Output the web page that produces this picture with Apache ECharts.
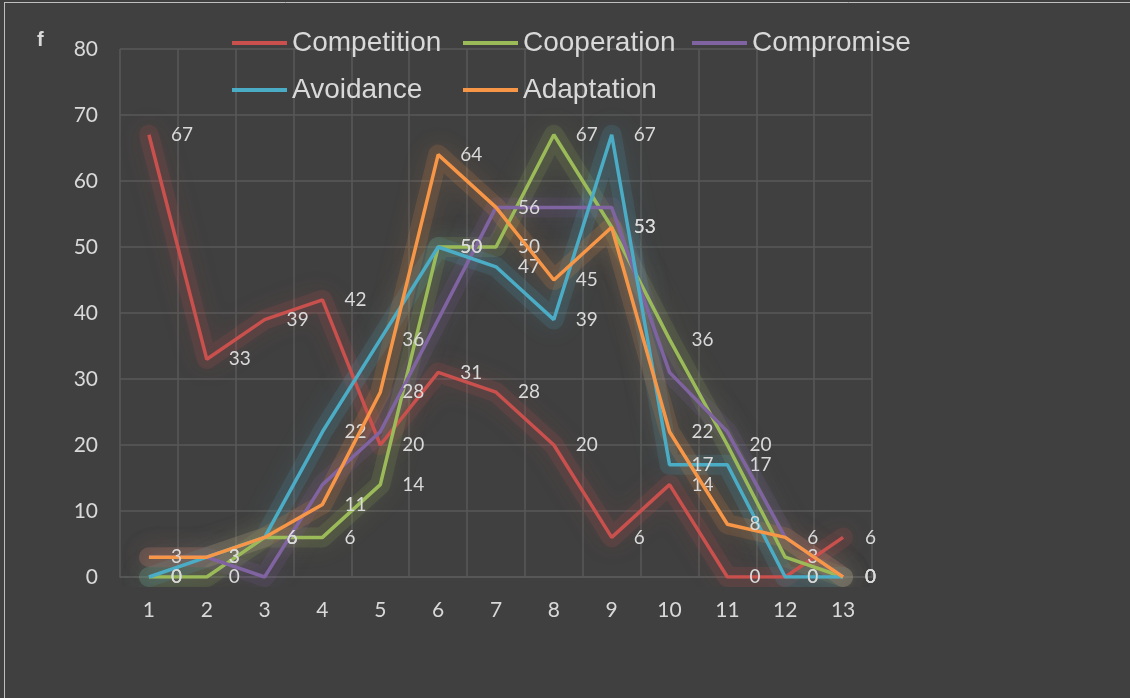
<!DOCTYPE html>
<html>
<head>
<meta charset="utf-8">
<style>
  html, body { margin: 0; padding: 0; background: #404040; }
  #chart { width: 1130px; height: 698px; }
</style>
<script src="https://cdn.jsdelivr.net/npm/echarts@6/dist/echarts.min.js"></script>
</head>
<body>
<div id="chart"></div>
<script>
// Categories on the horizontal axis
const categories = ['1', '2', '3', '4', '5', '6', '7', '8', '9', '10', '11', '12', '13'];

// Frequencies (f) per conflict style
const competition = [67, 33, 39, 42, 20, 31, 28, 20, 6, 14, 0, 0, 6];
const cooperation = [0, 0, 6, 6, 14, 50, 50, 67, 53, 36, 20, 3, 0];
const compromise  = [3, 3, 0, 14, 22, 39, 56, 56, 56, 31, 22, 6, 0];
const avoidance   = [0, 3, 6, 22, 36, 50, 47, 39, 67, 17, 17, 0, 0];
const adaptation  = [3, 3, 6, 11, 28, 64, 56, 45, 53, 22, 8, 6, 0];

const seriesNames  = ['Competition', 'Cooperation', 'Compromise', 'Avoidance', 'Adaptation'];
const seriesValues = [competition, cooperation, compromise, avoidance, adaptation];
const seriesColors = ['#c9504c', '#9bbb59', '#8064a2', '#4bacc6', '#f79646'];
const seriesLabels = [true, true, false, true, true];

// Y-axis ticks
const yTicks = { min: 0, max: 80, step: 10 };

function hexToRgba(hex, a) {
  const n = parseInt(hex.slice(1), 16);
  return 'rgba(' + ((n >> 16) & 255) + ',' + ((n >> 8) & 255) + ',' + (n & 255) + ',' + a + ')';
}

const textColor = '#d9d9d9';
const gridColor = '#595959';
const numFont = 'Lato, "Open Sans", sans-serif';

// Soft halo drawn underneath each line
const glowSeries = seriesNames.map((name, i) => ({
  name: name + ' glow',
  type: 'line',
  data: seriesValues[i],
  symbol: 'none',
  silent: true,
  z: 1,
  lineStyle: {
    color: hexToRgba(seriesColors[i], 0.14),
    width: 20,
    join: 'round',
    cap: 'round',
    shadowBlur: 24,
    shadowColor: hexToRgba(seriesColors[i], 0.8)
  },
  emphasis: { disabled: true },
  animation: false
}));

const lineSeries = seriesNames.map((name, i) => ({
  name: name,
  type: 'line',
  data: seriesValues[i],
  symbol: 'circle',
  symbolSize: 0,
  showSymbol: true,
  z: 2 + i,
  itemStyle: { color: seriesColors[i] },
  lineStyle: {
    color: seriesColors[i],
    width: 3.5
  },
  label: {
    show: seriesLabels[i],
    position: 'right',
    distance: 22,
    color: textColor,
    fontFamily: numFont,
    fontSize: 19
  },
  emphasis: { disabled: true },
  animation: false
}));

// Legend laid out as a two-row grid of fixed columns
const legendSlots = [
  { left: 232, top: 29 }, { left: 463, top: 29 }, { left: 692, top: 29 },
  { left: 232, top: 76 }, { left: 463, top: 76 }
];
const legends = seriesNames.map((name, i) => ({
  data: [name],
  left: legendSlots[i].left,
  top: legendSlots[i].top,
  icon: 'rect',
  itemWidth: 55,
  itemHeight: 4,
  itemGap: 0,
  padding: 0,
  selectedMode: false,
  textStyle: {
    color: textColor,
    fontFamily: '"Liberation Sans", Arial, sans-serif',
    fontSize: 28
  }
}));

const chart = echarts.init(document.getElementById('chart'), null, { renderer: 'canvas' });
chart.setOption({
  backgroundColor: '#404040',
  animation: false,
  legend: legends,
  grid: { left: 120, right: 258, top: 49, bottom: 121, containLabel: false },
  xAxis: {
    type: 'category',
    data: categories,
    boundaryGap: true,
    axisLine: { show: true, lineStyle: { color: gridColor, width: 1.5 } },
    axisTick: { show: false },
    splitLine: { show: true, lineStyle: { color: gridColor, width: 1.5 } },
    axisLabel: { color: textColor, fontFamily: numFont, fontSize: 21, margin: 23, interval: 0 }
  },
  yAxis: {
    type: 'value',
    min: yTicks.min,
    max: yTicks.max,
    interval: yTicks.step,
    axisLine: { show: false },
    axisTick: { show: false },
    splitLine: { show: true, lineStyle: { color: gridColor, width: 1.5 } },
    axisLabel: { color: textColor, fontFamily: numFont, fontSize: 21, margin: 22 }
  },
  graphic: [
    { type: 'line', shape: { x1: 4.5, y1: 2, x2: 4.5, y2: 698 }, style: { stroke: '#bfbfbf', lineWidth: 1 }, silent: true },
    { type: 'line', shape: { x1: 4, y1: 2.5, x2: 1130, y2: 2.5 }, style: { stroke: '#bfbfbf', lineWidth: 1 }, silent: true },
    { type: 'text', left: 37, top: 30, style: { text: 'f', fill: textColor, font: 'bold 20px "Liberation Sans", Arial, sans-serif' }, silent: true }
  ],
  series: glowSeries.concat(lineSeries)
});
</script>
</body>
</html>
